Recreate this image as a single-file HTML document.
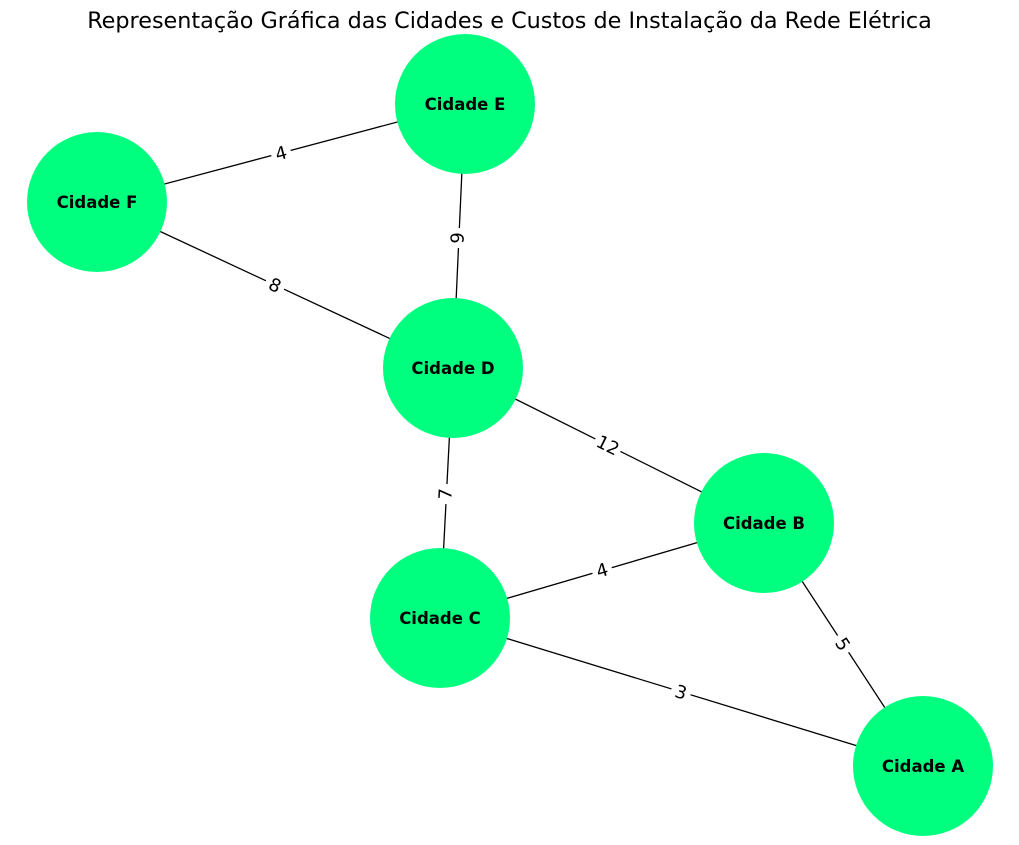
<!DOCTYPE html>
<html><head><meta charset="utf-8"><style>
html,body{margin:0;padding:0;background:#fff}
svg{display:block}
text{font-family:"DejaVu Sans",sans-serif}
</style></head><body>
<svg width="1019" height="845" viewBox="0 0 1019 845" xmlns="http://www.w3.org/2000/svg">
<text x="509.5" y="28" font-size="22.3" text-anchor="middle" fill="#000">Representação Gráfica das Cidades e Custos de Instalação da Rede Elétrica</text>
<g stroke="#000" stroke-width="1.3">
<line x1="97" y1="202" x2="465" y2="104"/>
<line x1="465" y1="104" x2="453" y2="368"/>
<line x1="97" y1="202" x2="453" y2="368"/>
<line x1="453" y1="368" x2="764" y2="523"/>
<line x1="453" y1="368" x2="440" y2="618"/>
<line x1="440" y1="618" x2="764" y2="523"/>
<line x1="440" y1="618" x2="923" y2="766"/>
<line x1="764" y1="523" x2="923" y2="766"/>
</g>
<g fill="#00ff7f">
<circle cx="465" cy="104" r="70"/>
<circle cx="97" cy="202" r="70"/>
<circle cx="453" cy="368" r="70"/>
<circle cx="764" cy="523" r="70"/>
<circle cx="440" cy="618" r="70"/>
<circle cx="923" cy="766" r="70"/>
</g>
<g font-size="16.5" font-weight="bold" text-anchor="middle" fill="#000">
<text x="465" y="110">Cidade E</text>
<text x="97" y="208">Cidade F</text>
<text x="453" y="374">Cidade D</text>
<text x="764" y="529">Cidade B</text>
<text x="440" y="624">Cidade C</text>
<text x="923" y="772">Cidade A</text>
</g>
<g font-size="18" text-anchor="middle" fill="#000">
<g transform="translate(281,153) rotate(-15)"><rect x="-10" y="-12" width="20" height="24" fill="#fff"/><text y="6.5">4</text></g>
<g transform="translate(457,238) rotate(92)"><rect x="-10" y="-12" width="20" height="24" fill="#fff"/><text y="6.5">6</text></g>
<g transform="translate(275,285) rotate(25)"><rect x="-10" y="-12" width="20" height="24" fill="#fff"/><text y="6.5">8</text></g>
<g transform="translate(608,445) rotate(26.5)"><rect x="-14" y="-12" width="28" height="24" fill="#fff"/><text y="6.5">12</text></g>
<g transform="translate(445,494) rotate(-87)"><rect x="-10" y="-12" width="20" height="24" fill="#fff"/><text y="6.5">7</text></g>
<g transform="translate(602,570) rotate(-16.3)"><rect x="-10" y="-12" width="20" height="24" fill="#fff"/><text y="6.5">4</text></g>
<g transform="translate(681,692) rotate(17)"><rect x="-10" y="-12" width="20" height="24" fill="#fff"/><text y="6.5">3</text></g>
<g transform="translate(843,644) rotate(56.8)"><rect x="-10" y="-12" width="20" height="24" fill="#fff"/><text y="6.5">5</text></g>
</g>
</svg>
</body></html>
